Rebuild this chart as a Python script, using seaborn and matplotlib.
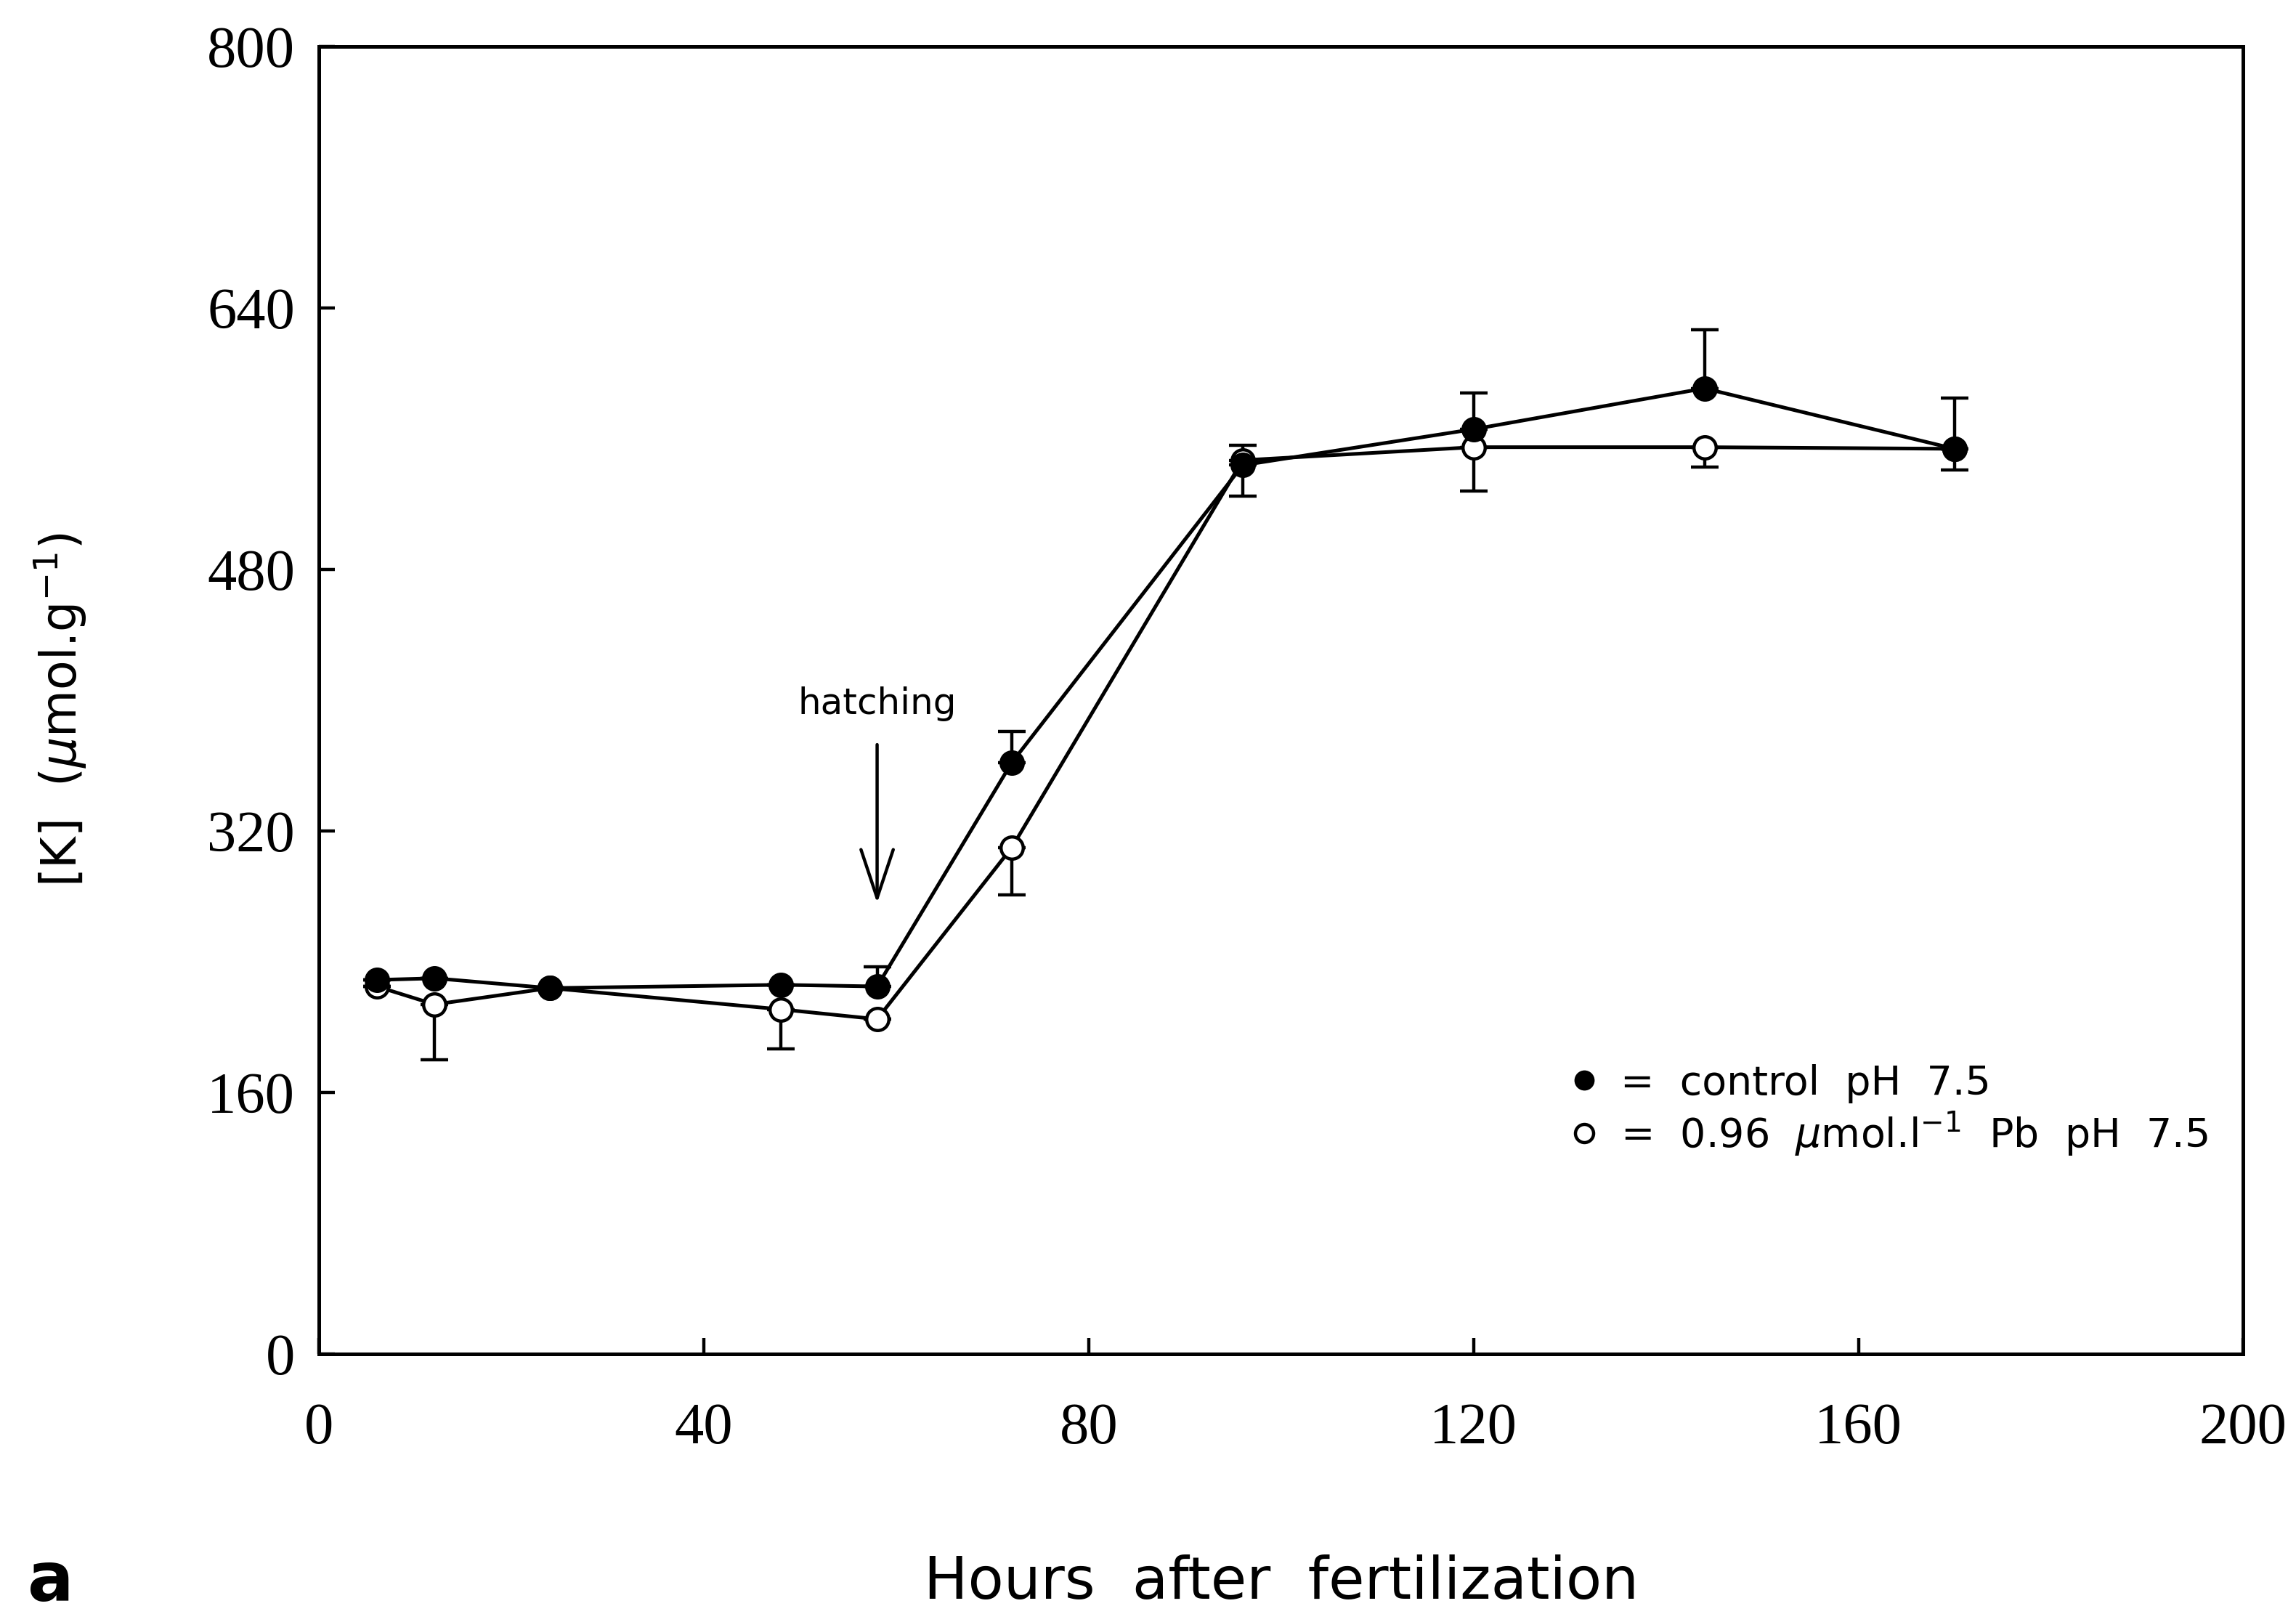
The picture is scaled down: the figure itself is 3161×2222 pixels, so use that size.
"""[K] в эмбрионах/личинках: контроль и Pb, pH 7.5 (панель a)."""
import matplotlib
matplotlib.use('Agg')
import matplotlib.pyplot as plt
import seaborn as sns
import pandas as pd
from matplotlib.lines import Line2D

# данные
hours = [6, 12, 24, 48, 58, 72, 96, 120, 144, 170]
control_k = [229, 230, 224, 226, 225, 362, 544, 566, 591, 554]
control_err_up = [0, 0, 0, 0, 12, 19, 12, 22, 36, 31]
lead_k = [225, 214, 224, 211, 205, 310, 547, 555, 555, 554]
lead_err_down = [0, 34, 0, 24, 0, 29, 22, 27, 12, 13]

x_ticks = [0, 40, 80, 120, 160, 200]
y_ticks = [0, 160, 320, 480, 640, 800]

hatching_h = 58
hatching_arrow = (373, 276)
hatching_text_y = 398


def main():
    sns.set_style('ticks')
    plt.rcParams['font.family'] = ['DejaVu Sans']
    for key in ('text.color', 'axes.labelcolor', 'xtick.color', 'ytick.color',
                'axes.edgecolor'):
        plt.rcParams[key] = 'black'

    df = pd.DataFrame({'hours': hours, 'control': control_k, 'lead': lead_k})
    zeros = [0] * len(hours)

    fig = plt.figure(figsize=(15.805, 11.11), dpi=200)
    ax = fig.add_axes([0.139, 0.161, 0.838, 0.810])

    # усы ошибок: контроль вверх, Pb вниз
    ax.errorbar(hours, control_k, yerr=[zeros, control_err_up], fmt='none',
                ecolor='black', elinewidth=1.6, capsize=7, capthick=1.6, zorder=1)
    ax.errorbar(hours, lead_k, yerr=[lead_err_down, zeros], fmt='none',
                ecolor='black', elinewidth=1.6, capsize=7, capthick=1.6, zorder=1)

    sns.lineplot(data=df, x='hours', y='lead', ax=ax, color='black', lw=1.8,
                 marker='o', markersize=11, markerfacecolor='white',
                 markeredgecolor='black', markeredgewidth=1.6, zorder=2)
    sns.lineplot(data=df, x='hours', y='control', ax=ax, color='black', lw=1.8,
                 marker='o', markersize=11, markerfacecolor='black',
                 markeredgecolor='black', markeredgewidth=1.6, zorder=3)

    ax.set_xlim(0, 200)
    ax.set_ylim(0, 800)
    ax.set_xticks(x_ticks)
    ax.set_yticks(y_ticks)
    ax.tick_params(direction='in', length=8, width=1.6, labelsize=29)
    ax.tick_params(axis='x', pad=24)
    ax.tick_params(axis='y', pad=12)
    for lab in ax.get_xticklabels() + ax.get_yticklabels():
        lab.set_family(['Liberation Serif', 'DejaVu Serif'])
    for sp in ax.spines.values():
        sp.set_visible(True)
        sp.set_linewidth(1.8)

    ax.set_xlabel('Hours  after  fertilization', fontsize=29,
                  family=['Liberation Sans Narrow', 'DejaVu Sans'])
    ax.xaxis.set_label_coords(0.5, -0.153)
    ax.set_ylabel(r'[K]  ($\mu$mol.g$^{-1}$)', fontsize=24)
    ax.yaxis.set_label_coords(-0.120, 0.493)

    # стрелка "hatching"
    ax.annotate('', xy=(hatching_h, hatching_arrow[1]),
                xytext=(hatching_h, hatching_arrow[0]),
                arrowprops=dict(arrowstyle='->,head_length=1.2,head_width=0.4',
                                lw=1.6, color='black', mutation_scale=20,
                                shrinkA=0, shrinkB=0))
    ax.text(hatching_h, hatching_text_y, 'hatching', ha='center', va='center',
            fontsize=18)

    handles = [
        Line2D([], [], ls='none', marker='o', markersize=9, mfc='black', mec='black'),
        Line2D([], [], ls='none', marker='o', markersize=9, mfc='white', mec='black',
               mew=1.6),
    ]
    labels = ['=  control  pH  7.5', r'=  0.96  $\mu$mol.l$^{-1}$  Pb  pH  7.5']
    ax.legend(handles, labels, loc='upper left', bbox_to_anchor=(0.647, 0.222),
              frameon=False, fontsize=20, handlelength=1.0, handletextpad=0.4,
              borderpad=0, borderaxespad=0, labelspacing=0.15)

    fig.text(0.012, 0.008, 'a', fontsize=34, fontweight='bold', va='baseline')

    fig.savefig('out.png', dpi=200, facecolor='white')


if __name__ == '__main__':
    main()
